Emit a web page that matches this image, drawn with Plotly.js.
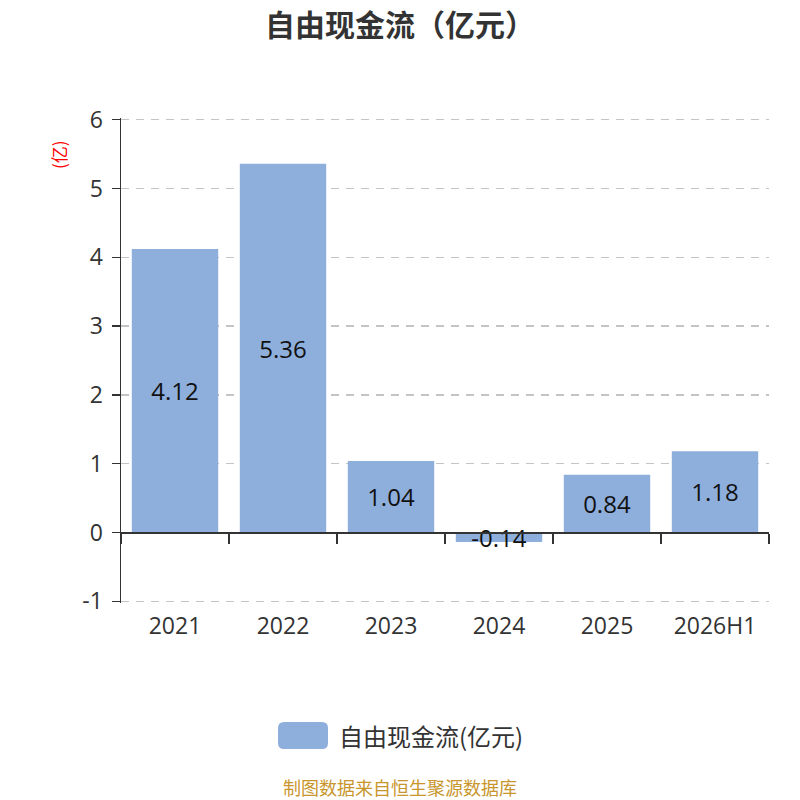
<!DOCTYPE html>
<html>
<head>
<meta charset="utf-8" />
<script src="https://cdn.plot.ly/plotly-3.0.1.min.js"></script>
<style>
  html, body { margin: 0; padding: 0; background: #fff; }
  #chart { width: 800px; height: 800px; }
</style>
</head>
<body>
<div id="chart"></div>
<script>
// data
const categories = ["2021", "2022", "2023", "2024", "2025", "2026H1"];
const values = [4.12, 5.36, 1.04, -0.14, 0.84, 1.18];
const labels = values.map((v) => v.toFixed(2));
const yTickVals = [-1, 0, 1, 2, 3, 4, 5, 6];
const yTickText = ["-1", "0", "1", "2", "3", "4", "5", "6"];
// a hair past -1 and 6 so plotly keeps the edge gridlines
const yRange = [-1.025, 6.025];

const TITLE = "自由现金流（亿元）";
const SERIES_NAME = "自由现金流(亿元)";
const FOOTER = "制图数据来自恒生聚源数据库";
const BAR_COLOR = "#8eaedc";
const FONT = "'Open Sans', 'Noto Sans CJK SC', sans-serif";
const CJK = "'Noto Sans CJK SC', 'Open Sans', sans-serif";

// plot box in pixels
const M = { l: 121, r: 31, t: 118, b: 197 };
const plotW = 800 - M.l - M.r;
const plotH = 800 - M.t - M.b;
const px = (x) => (x - M.l) / plotW;
const py = (y) => (800 - M.b - y) / plotH;

function roundedRect(x0, y0, x1, y1, r) {
  const p = (x, y) => `${px(x)},${py(y)}`;
  return [
    `M${p(x0 + r, y0)}`, `L${p(x1 - r, y0)}`, `Q${p(x1, y0)} ${p(x1, y0 + r)}`,
    `L${p(x1, y1 - r)}`, `Q${p(x1, y1)} ${p(x1 - r, y1)}`,
    `L${p(x0 + r, y1)}`, `Q${p(x0, y1)} ${p(x0, y1 - r)}`,
    `L${p(x0, y0 + r)}`, `Q${p(x0, y0)} ${p(x0 + r, y0)}`, "Z",
  ].join(" ");
}

const boundaries = categories.map((_, i) => i - 0.5).concat(categories.length - 0.5);
const zeroPos = (0 - yRange[0]) / (yRange[1] - yRange[0]);

const bars = {
  type: "bar",
  x: categories,
  y: values,
  text: labels,
  textposition: "inside",
  insidetextanchor: "middle",
  constraintext: "none",
  textangle: 0,
  textfont: { family: FONT, size: 24, color: "#111" },
  marker: { color: BAR_COLOR },
  hoverinfo: "none",
  cliponaxis: false,
  showlegend: false,
};

// empty trace so the zero-line axis (x2) gets drawn
const zeroAxisHolder = {
  type: "scatter", mode: "lines", x: [], y: [],
  xaxis: "x2", yaxis: "y", showlegend: false, hoverinfo: "none",
};

const layout = {
  width: 800,
  height: 800,
  margin: M,
  paper_bgcolor: "#fff",
  plot_bgcolor: "#fff",
  font: { family: FONT, color: "#333" },
  bargap: 0.2,
  title: {
    text: `<b>${TITLE}</b>`,
    font: { family: CJK, size: 30, color: "#333" },
    x: 0.5, xanchor: "center",
    y: 1 - 25 / 800, yref: "container", yanchor: "middle",
  },
  xaxis: {
    type: "category",
    range: [-0.5, categories.length - 0.5],
    showline: false,
    ticks: "",
    showgrid: false,
    zeroline: false,
    tickfont: { family: FONT, size: 23, color: "#333" },
    ticklabelstandoff: 7,
    fixedrange: true,
  },
  xaxis2: {
    type: "linear",
    overlaying: "x",
    anchor: "free",
    position: zeroPos,
    side: "bottom",
    range: [-0.5, categories.length - 0.5],
    tickmode: "array",
    tickvals: boundaries,
    showticklabels: false,
    ticks: "outside",
    ticklen: 10,
    tickwidth: 1.5,
    tickcolor: "#333",
    showline: true,
    linecolor: "#333",
    linewidth: 1.5,
    showgrid: false,
    zeroline: false,
    fixedrange: true,
  },
  yaxis: {
    range: yRange,
    tickmode: "array",
    tickvals: yTickVals,
    ticktext: yTickText,
    showline: true,
    linecolor: "#333",
    linewidth: 1.5,
    ticks: "outside",
    ticklen: 8,
    tickwidth: 1.5,
    tickcolor: "#333",
    tickfont: { family: FONT, size: 23, color: "#333" },
    ticklabelstandoff: 4,
    showgrid: true,
    gridcolor: "#c4c4c4",
    gridwidth: 1.5,
    griddash: "8px,7px",
    zeroline: false,
    fixedrange: true,
  },
  shapes: [
    {
      type: "path", xref: "paper", yref: "paper",
      path: roundedRect(278, 722, 328, 749, 6),
      fillcolor: BAR_COLOR, line: { width: 0 },
    },
  ],
  annotations: [
    {
      text: "(亿)", textangle: -90,
      xref: "paper", yref: "paper", x: px(59), y: py(155),
      xanchor: "center", yanchor: "middle", showarrow: false,
      font: { family: CJK, size: 17, color: "#ff0000" },
    },
    {
      text: SERIES_NAME,
      xref: "paper", yref: "paper", x: px(337), y: py(735),
      xanchor: "left", yanchor: "middle", showarrow: false,
      font: { family: CJK, size: 24, color: "#333" },
    },
    {
      text: FOOTER,
      xref: "paper", yref: "paper", x: px(400), y: py(787),
      xanchor: "center", yanchor: "middle", showarrow: false, borderpad: 0,
      font: { family: CJK, size: 18, color: "#c8962d" },
    },
  ],
};

Plotly.newPlot("chart", [bars, zeroAxisHolder], layout, { displayModeBar: false, staticPlot: true });
</script>
</body>
</html>
